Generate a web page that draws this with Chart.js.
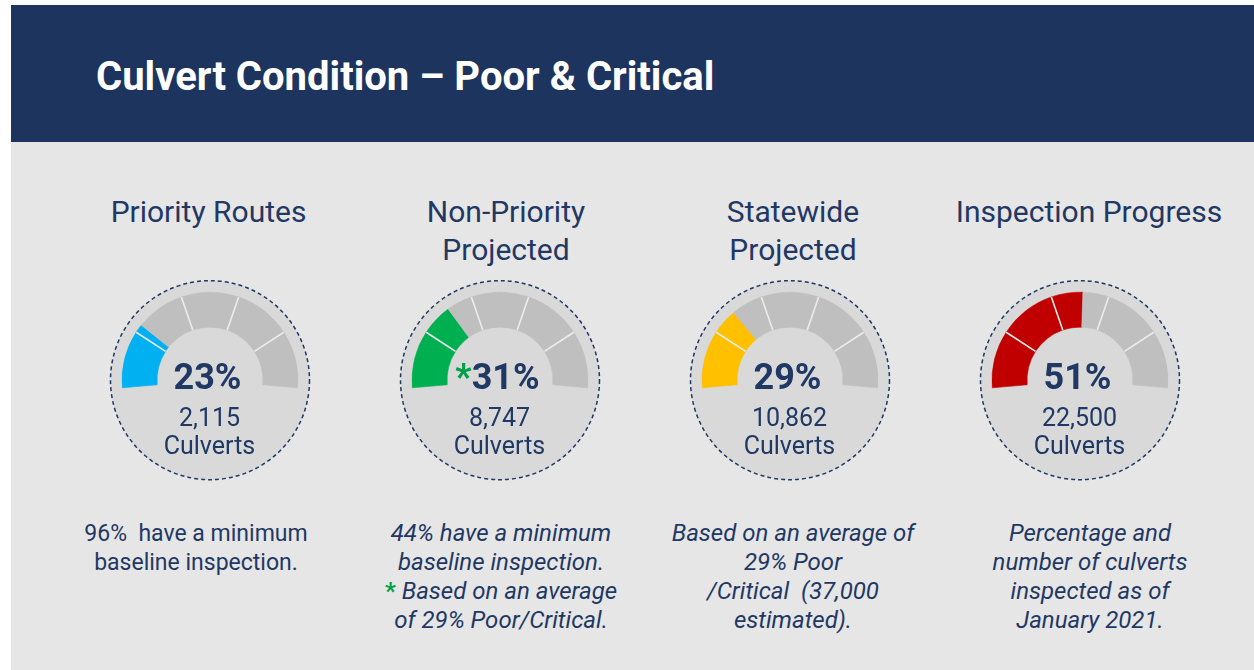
<!DOCTYPE html>
<html lang="en">
<head>
<meta charset="UTF-8">
<title>Culvert Condition – Poor &amp; Critical</title>
<script src="https://cdn.jsdelivr.net/npm/chart.js"></script>
<style>
  body { margin: 0; width: 1254px; height: 670px; overflow: hidden; background: #fff; position: relative;
         font-family: Roboto, "Liberation Sans", sans-serif; color: #1f3864; }
  #header { position: absolute; left: 11px; top: 5px; width: 1243px; height: 137px; background: #1d355e; }
  #title { position: absolute; left: 85px; top: 52px; font-size: 40px; line-height: 40px; color: #fff;
           font-weight: bold; white-space: nowrap; }
  #panel { position: absolute; left: 11px; top: 142px; width: 1243px; height: 528px; background: #e7e6e6; }
  .gauge-title { position: absolute; width: 340px; text-align: center; font-size: 30px; line-height: 38px; top: 193px; white-space: nowrap; }
  .mid { position: absolute; width: 200px; text-align: center; white-space: nowrap; z-index: 2; }
  .pct { font-weight: bold; font-size: 36px; line-height: 40px; top: 357px; }
  .pct .mark { color: #00a04a; }
  .count { font-size: 25px; line-height: 28px; top: 404px; }
  .unit { font-size: 25px; line-height: 28px; top: 432px; }
  .note { position: absolute; width: 340px; text-align: center; font-size: 23px; line-height: 29px; top: 519px; white-space: pre; }
  .note.it { font-style: italic; font-size: 24px; }
  .note .mark { color: #00a04a; font-style: normal; font-weight: bold; }
  canvas { position: absolute; z-index: 1; }
</style>
</head>
<body>
<div id="header"><div id="title">Culvert Condition – Poor &amp; Critical</div></div>
<div id="panel"></div>

<script>
  // gauge data
  const gaugeTitles = [['Priority Routes'], ['Non-Priority', 'Projected'], ['Statewide', 'Projected'], ['Inspection Progress']];
  const gaugePercents = [23, 31, 29, 51];
  const percentMarks = ['', '*', '', ''];
  const culvertCounts = ['2,115', '8,747', '10,862', '22,500'];
  const bandEdges = [20, 40, 60, 80, 100];
  const notes = [
    ['96%  have a minimum', 'baseline inspection.'],
    ['44% have a minimum', 'baseline inspection.', '* Based on an average', 'of 29% Poor/Critical.'],
    ['Based on an average of', '29% Poor', '/Critical  (37,000', 'estimated).'],
    ['Percentage and', 'number of culverts', 'inspected as of', 'January 2021.']
  ];

  // layout / style
  const gaugeX = [209.5, 499.5, 789.5, 1079.5];
  const titleX = [208.5, 506, 793, 1089];
  const noteX = [196, 501, 793, 1090];
  const gaugeY = 380.5;
  const fillColors = ['#00b0f0', '#00b050', '#ffc000', '#c00000'];
  const noteItalic = [false, true, true, true];
  const RING_OUTER = 88, RING_INNER = 53, DIAL_RADIUS = 99.5;
  const RING_GRAY = '#bfbfbf';

  function addDiv(cls, x, html, width) {
    const d = document.createElement('div');
    d.className = cls;
    d.style.left = (x - width / 2) + 'px';
    d.innerHTML = html;
    document.body.appendChild(d);
    return d;
  }
  const esc = s => s.replace(/&/g, '&amp;').replace(/</g, '&lt;');

  // split the ring into bands, cut once more at the value
  function ringPieces(value) {
    const cuts = [0, ...bandEdges, value].filter((v, i, a) => a.indexOf(v) === i).sort((a, b) => a - b);
    const data = [], filled = [];
    for (let i = 1; i < cuts.length; i++) {
      data.push(cuts[i] - cuts[i - 1]);
      filled.push(cuts[i] <= value);
    }
    return { data, filled };
  }

  // dial face behind the ring, band separators on top
  const gaugeDecor = {
    id: 'gaugeDecor',
    beforeDatasetsDraw(chart) {
      const arc = chart.getDatasetMeta(0).data[0];
      const ctx = chart.ctx;
      ctx.save();
      ctx.beginPath();
      ctx.arc(arc.x, arc.y, DIAL_RADIUS, 0, Math.PI * 2);
      ctx.fillStyle = '#d9d9d9';
      ctx.fill();
      ctx.setLineDash([4, 3]);
      ctx.lineWidth = 1.5;
      ctx.strokeStyle = '#1f3864';
      ctx.stroke();
      ctx.restore();
    },
    afterDatasetsDraw(chart) {
      const meta = chart.getDatasetMeta(0);
      const values = chart.data.datasets[0].data;
      const ctx = chart.ctx;
      let sum = 0;
      ctx.save();
      ctx.strokeStyle = '#ececec';
      ctx.lineWidth = 1.6;
      meta.data.forEach((el, i) => {
        sum += values[i];
        if (sum < 100 && bandEdges.includes(sum)) {
          const a = el.endAngle;
          ctx.beginPath();
          ctx.moveTo(el.x + Math.cos(a) * el.innerRadius, el.y + Math.sin(a) * el.innerRadius);
          ctx.lineTo(el.x + Math.cos(a) * el.outerRadius, el.y + Math.sin(a) * el.outerRadius);
          ctx.stroke();
        }
      });
      ctx.restore();
    }
  };

  gaugePercents.forEach((pct, g) => {
    const canvas = document.createElement('canvas');
    canvas.width = 240;
    canvas.height = 320;
    document.body.appendChild(canvas);
    const { data, filled } = ringPieces(pct);
    const colors = filled.map(f => f ? fillColors[g] : RING_GRAY);
    const chart = new Chart(canvas, {
      type: 'doughnut',
      data: {
        labels: data.map((_, i) => 'band ' + i),
        datasets: [{ data, backgroundColor: colors, borderColor: colors, borderWidth: 0.6 }]
      },
      options: {
        responsive: false,
        animation: false,
        events: [],
        circumference: 190,
        rotation: -95,
        radius: RING_OUTER,
        cutout: (RING_INNER / RING_OUTER * 100) + '%',
        plugins: { legend: { display: false }, tooltip: { enabled: false } }
      },
      plugins: [gaugeDecor]
    });
    const arc = chart.getDatasetMeta(0).data[0];
    canvas.style.left = (gaugeX[g] - arc.x) + 'px';
    canvas.style.top = (gaugeY - arc.y) + 'px';

    addDiv('gauge-title', titleX[g], gaugeTitles[g].map(esc).join('<br>'), 340);
    const mark = percentMarks[g] ? '<span class="mark">' + percentMarks[g] + '</span>' : '';
    addDiv('mid pct', gaugeX[g] - 2, mark + pct + '%', 200);
    addDiv('mid count', gaugeX[g], culvertCounts[g], 200);
    addDiv('mid unit', gaugeX[g], 'Culverts', 200);

    const lines = notes[g].map(l => l.startsWith('* ')
      ? '<span class="mark">*</span>' + esc(l.slice(1)) : esc(l));
    addDiv(noteItalic[g] ? 'note it' : 'note', noteX[g], lines.join('\n'), 340);
  });
</script>
</body>
</html>
